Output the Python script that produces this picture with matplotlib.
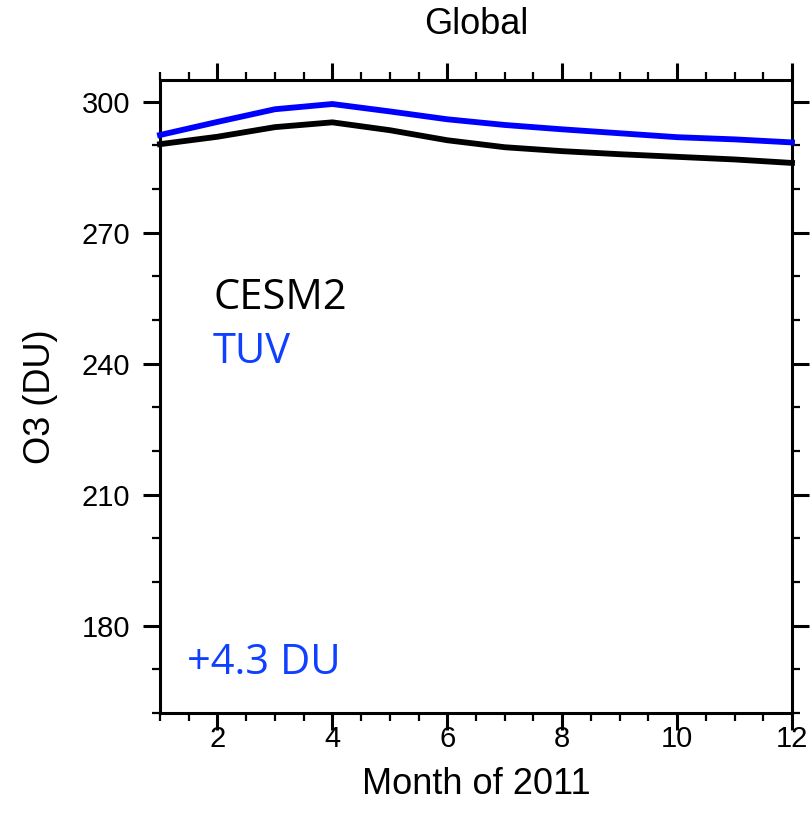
import matplotlib
matplotlib.use("Agg")
import matplotlib.pyplot as plt
from matplotlib.ticker import MultipleLocator

months = [1, 2, 3, 4, 5, 6, 7, 8, 9, 10, 11, 12]
cesm2 = [290.3, 292.0, 294.2, 295.3, 293.5, 291.2, 289.6, 288.7, 288.0, 287.4, 286.8, 286.0]
tuv = [292.4, 295.4, 298.3, 299.5, 297.8, 296.0, 294.7, 293.7, 292.8, 291.9, 291.4, 290.7]
xticks = [2, 4, 6, 8, 10, 12]
yticks = [180, 210, 240, 270, 300]
title = "Global"
xlabel = "Month of 2011"
ylabel = "O3 (DU)"
labels = ["CESM2", "TUV"]
diff_text = "+4.3 DU"

plt.rcParams['font.family'] = ['Liberation Sans', 'DejaVu Sans']

fig = plt.figure(figsize=(8.11, 8.32), dpi=100)
ax = fig.add_axes([160/811, 1-713/832, 632/811, 633/832])

ax.plot(months, cesm2, color='black', lw=4.2, solid_joinstyle='round', clip_on=False, zorder=3)
ax.plot(months, tuv, color='#0000ff', lw=4.2, solid_joinstyle='round', clip_on=False, zorder=3)

ax.set_xlim(1, 12)
ax.set_ylim(160, 305)
ax.set_xticks(xticks)
ax.set_yticks(yticks)
ax.xaxis.set_minor_locator(MultipleLocator(0.5))
ax.yaxis.set_minor_locator(MultipleLocator(10))

for s in ax.spines.values():
    s.set_linewidth(2.2)

ax.tick_params(which='both', direction='out', top=True, right=True, width=2.2)
ax.tick_params(which='major', length=12.5)
ax.tick_params(which='minor', length=6, width=1.6)
ax.tick_params(axis='x', which='major', labelsize=21, pad=-4)
ax.tick_params(axis='y', which='major', labelsize=21, pad=9)

ax.set_xlabel(xlabel, fontsize=26, labelpad=10)
ax.set_ylabel(ylabel, fontsize=26, labelpad=17)
fig.text(476/811, 1-25/832, title, ha='center', va='center', fontsize=26)

tfont = ['Open Sans', 'DejaVu Sans']
fig.text(213/811, 1-298/832, labels[0], color='black', fontsize=30, family=tfont, ha='left', va='center')
fig.text(213/811, 1-352/832, labels[1], color='#1040ff', fontsize=30, family=tfont, ha='left', va='center')
fig.text(187/811, 1-663/832, diff_text, color='#1040ff', fontsize=30, family=tfont, ha='left', va='center')

fig.savefig('out.png', dpi=100)
